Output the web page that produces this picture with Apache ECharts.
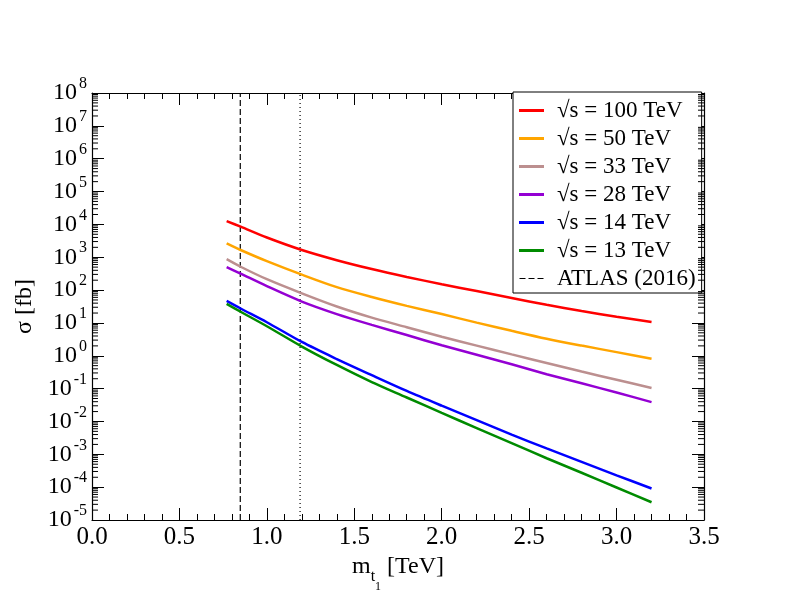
<!DOCTYPE html>
<html>
<head>
<meta charset="utf-8">
<script src="https://cdn.jsdelivr.net/npm/echarts@6/dist/echarts.min.js"></script>
<style>
  html, body { margin: 0; padding: 0; background: #fff; }
  #main { width: 792px; height: 612px; }
</style>
</head>
<body>
<div id="main"></div>
<script>
// stop mass [TeV]
var masses = [0.77, 0.85, 1.0, 1.2, 1.4, 1.6, 1.8, 2.0, 2.2, 2.4, 2.6, 2.8, 3.0, 3.2];

// cross sections [fb]
var sig100 = [1.26e4, 8.51e3, 3.98e3, 1.66e3, 813, 437, 251, 151, 93.3, 57.5, 35.5, 22.9, 15.5, 10.7];
var sig50 = [2630, 1660, 759, 295, 123, 61.7, 33.1, 18.6, 10.2, 5.75, 3.31, 2.04, 1.29, 0.813];
var sig33 = [871, 513, 214, 79.4, 31.6, 14.5, 7.41, 3.80, 2.04, 1.10, 0.603, 0.331, 0.186, 0.105];
var sig28 = [501, 316, 132, 44.7, 18.6, 8.71, 4.27, 2.09, 1.07, 0.550, 0.275, 0.145, 0.0759, 0.0389];
var sig14 = [46.8, 27.5, 10.5, 2.63, 0.794, 0.257, 0.0851, 0.0302, 0.0110, 3.98e-3, 1.51e-3, 5.89e-4, 2.29e-4, 9.12e-5];
var sig13 = [38.0, 21.9, 7.94, 1.91, 0.525, 0.158, 0.0537, 0.0182, 6.31e-3, 2.19e-3, 7.59e-4, 2.75e-4, 9.77e-5, 3.47e-5];

var seriesNames = ['√s = 100 TeV', '√s = 50 TeV', '√s = 33 TeV', '√s = 28 TeV', '√s = 14 TeV', '√s = 13 TeV'];
var seriesColors = ['#ff0000', '#ffa500', '#bc8f8f', '#9400d3', '#0000ff', '#008b00'];
var seriesValues = [sig100, sig50, sig33, sig28, sig14, sig13];

// vertical limits [TeV]
var atlasLimit = 0.848;
var dottedLimit = 1.19;

var yMin = 1e-5, yMax = 1e8;
var serif = 'Liberation Serif';

// minor ticks of the log axis (2..9 in each decade)
var yMinor = [];
for (var k = -5; k < 8; k++) {
    for (var m = 2; m <= 9; m++) {
        yMinor.push([0, m * Math.pow(10, k)]);
    }
}

function pairs(xs, ys) {
    return xs.map(function (x, i) { return [x, ys[i]]; });
}

var series = seriesNames.map(function (name, i) {
    return {
        name: name,
        type: 'line',
        data: pairs(masses, seriesValues[i]),
        showSymbol: false,
        symbol: 'none',
        smooth: 0.3,
        lineStyle: { color: seriesColors[i], width: 2.5 },
        itemStyle: { color: seriesColors[i] },
        z: 3
    };
});

series.push({
    name: 'ATLAS (2016)',
    type: 'line',
    data: [[atlasLimit, yMin], [atlasLimit, yMax]],
    symbol: 'none',
    lineStyle: { color: '#000', width: 1.2, type: [6, 3] },
    itemStyle: { color: '#000' },
    z: 2
});
series.push({
    name: 'dotted',
    type: 'line',
    data: [[dottedLimit, yMin], [dottedLimit, yMax]],
    symbol: 'none',
    lineStyle: { color: '#000', width: 1.2, type: [1, 3] },
    z: 2
});
series.push({
    name: 'minor',
    type: 'custom',
    silent: true,
    data: yMinor,
    renderItem: function (params, api) {
        var p = api.coord([0, api.value(1)]);
        var cs = params.coordSys;
        return {
            type: 'group',
            children: [
                { type: 'line', shape: { x1: cs.x, y1: p[1], x2: cs.x + 6, y2: p[1] }, style: { stroke: '#000', lineWidth: 1 } },
                { type: 'line', shape: { x1: cs.x + cs.width, y1: p[1], x2: cs.x + cs.width - 6, y2: p[1] }, style: { stroke: '#000', lineWidth: 1 } }
            ]
        };
    },
    z: 4
});

var xCommon = {
    type: 'value',
    min: 0,
    max: 3.5,
    interval: 0.5,
    splitLine: { show: false },
    axisLine: { show: true, onZero: false, lineStyle: { color: '#000', width: 1.2 } },
    axisTick: { show: true, inside: true, length: 12, lineStyle: { color: '#000' } },
    minorTick: { show: true, splitNumber: 5, length: 6, lineStyle: { color: '#000' } }
};

var yCommon = {
    type: 'log',
    logBase: 10,
    min: yMin,
    max: yMax,
    interval: 1,
    splitNumber: 13,
    splitLine: { show: false },
    axisLine: { show: true, onZero: false, lineStyle: { color: '#000', width: 1.2 } },
    axisTick: { show: true, inside: true, length: 12, lineStyle: { color: '#000' } }
};

var dashIcon = 'path://M0,0h0.01v0.01h-0.01z M0,1h6v1h-6z M9,1h6v1h-6z M18,1h6v1h-6z M23.99,2.99h0.01v0.01h-0.01z';

var option = {
    backgroundColor: '#fff',
    animation: false,
    grid: { left: 92, right: 88, top: 93, bottom: 92 },
    legend: {
        orient: 'vertical',
        left: 513,
        top: 92,
        padding: [7, 6, 3, 6],
        itemWidth: 25,
        itemHeight: 3,
        itemGap: 5,
        borderColor: '#000',
        borderWidth: 1,
        backgroundColor: '#fff',
        textStyle: { fontFamily: serif, fontSize: 23, lineHeight: 23, color: '#000', padding: [0, 0, 0, 8] },
        data: seriesNames.map(function (n) { return { name: n, icon: 'rect' }; })
            .concat([{ name: 'ATLAS (2016)', icon: dashIcon }])
    },
    xAxis: [
        Object.assign({}, xCommon, {
            position: 'bottom',
            name: '{m|m}{t|t}{one|1}{r| [TeV]}',
            nameLocation: 'middle',
            nameGap: 33,
            nameTextStyle: {
                rich: {
                    m: { fontFamily: serif, fontSize: 24, color: '#000', verticalAlign: 'top', lineHeight: 26 },
                    r: { fontFamily: serif, fontSize: 24, color: '#000', verticalAlign: 'top', lineHeight: 26 },
                    t: { fontFamily: serif, fontSize: 16, color: '#000', verticalAlign: 'top', lineHeight: 16, padding: [14, 0, 0, 0] },
                    one: { fontFamily: serif, fontSize: 12, color: '#000', verticalAlign: 'top', lineHeight: 12, padding: [26, 0, 0, 0] }
                }
            },
            axisLabel: {
                fontFamily: serif, fontSize: 25, color: '#000', margin: 5,
                formatter: function (v) { return v.toFixed(1); }
            }
        }),
        Object.assign({}, xCommon, {
            position: 'top',
            axisLabel: { show: false }
        })
    ],
    yAxis: [
        Object.assign({}, yCommon, {
            position: 'left',
            name: 'σ [fb]',
            nameLocation: 'middle',
            nameGap: 52,
            nameTextStyle: { fontFamily: serif, fontSize: 24, color: '#000' },
            axisLabel: {
                margin: 5,
                formatter: function (v) {
                    var e = Math.round(Math.log(v) / Math.LN10);
                    return '{b|10}{e|' + (e < 0 ? '-' + (-e) : e) + '}';
                },
                rich: {
                    b: { fontFamily: serif, fontSize: 24, color: '#000', lineHeight: 24, verticalAlign: 'bottom' },
                    e: { fontFamily: serif, fontSize: 16, color: '#000', lineHeight: 16, verticalAlign: 'bottom', padding: [0, 0, 13, 2] }
                }
            }
        }),
        Object.assign({}, yCommon, {
            position: 'right',
            axisLabel: { show: false }
        })
    ],
    series: series
};

var myChart = echarts.init(document.getElementById('main'));
myChart.setOption(option);
</script>
</body>
</html>
